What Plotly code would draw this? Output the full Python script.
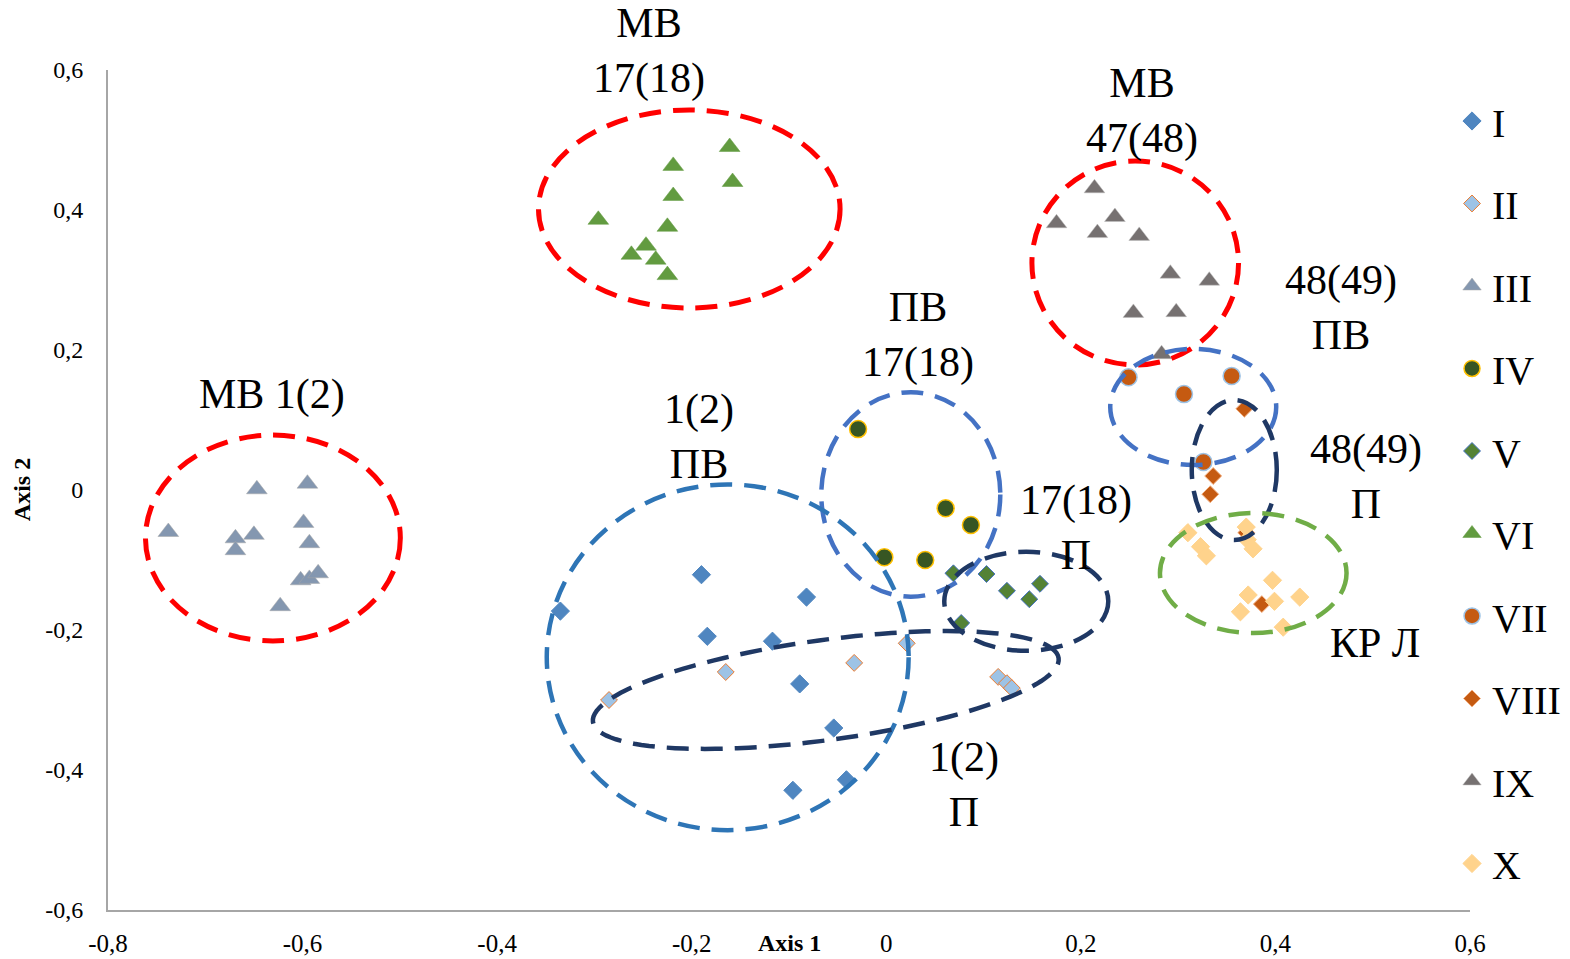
import numpy as np
import plotly.graph_objects as go

# ---- data: ordination scores (Axis 1, Axis 2) per group ----
x_I = [-0.335, -0.190, -0.184, -0.117, -0.082, -0.089, -0.054, -0.041, -0.096]
y_I = [-0.173, -0.121, -0.209, -0.216, -0.153, -0.277, -0.340, -0.414, -0.429]

x_II = [-0.285, -0.165, -0.033, 0.021, 0.115, 0.124, 0.129]
y_II = [-0.300, -0.260, -0.247, -0.219, -0.267, -0.276, -0.283]

x_III = [-0.738, -0.647, -0.595, -0.599, -0.593, -0.669, -0.669, -0.650, -0.602, -0.593, -0.584, -0.623]
y_III = [-0.060, 0.001, 0.009, -0.047, -0.076, -0.069, -0.086, -0.064, -0.129, -0.127, -0.119, -0.166]

x_IV = [-0.029, 0.061, 0.087, -0.002, 0.040]
y_IV = [0.087, -0.026, -0.050, -0.096, -0.100]

x_V = [0.069, 0.103, 0.124, 0.147, 0.158, 0.077]
y_V = [-0.119, -0.120, -0.144, -0.156, -0.134, -0.190]

x_VI = [-0.161, -0.158, -0.219, -0.219, -0.296, -0.225, -0.247, -0.262, -0.237, -0.225]
y_VI = [0.490, 0.440, 0.463, 0.420, 0.386, 0.376, 0.349, 0.336, 0.329, 0.307]

x_VII = [0.249, 0.355, 0.306, 0.326]
y_VII = [0.161, 0.163, 0.137, 0.040]

x_VIII = [0.368, 0.336, 0.333, 0.370, 0.386]
y_VIII = [0.116, 0.020, -0.006, -0.061, -0.163]

x_IX = [0.214, 0.175, 0.235, 0.217, 0.260, 0.292, 0.332, 0.254, 0.298, 0.283]
y_IX = [0.431, 0.381, 0.390, 0.367, 0.363, 0.309, 0.299, 0.253, 0.254, 0.194]

x_X = [0.310, 0.323, 0.329, 0.370, 0.371, 0.377, 0.397, 0.372, 0.399, 0.425, 0.364, 0.408]
y_X = [-0.061, -0.081, -0.094, -0.053, -0.071, -0.084, -0.129, -0.150, -0.159, -0.153, -0.174, -0.196]

series_names = ["I", "II", "III", "IV", "V", "VI", "VII", "VIII", "IX", "X"]

x_ticks = [-0.8, -0.6, -0.4, -0.2, 0, 0.2, 0.4, 0.6]
x_tick_text = ["-0,8", "-0,6", "-0,4", "-0,2", "0", "0,2", "0,4", "0,6"]
y_ticks = [-0.6, -0.4, -0.2, 0, 0.2, 0.4, 0.6]
y_tick_text = ["-0,6", "-0,4", "-0,2", "0", "0,2", "0,4", "0,6"]

# cluster outlines: (centre x, centre y, half-width, half-height, colour)
clusters = [
    (-0.6305, -0.0686, 0.131, 0.147, "#FF0000"),
    (-0.2025, 0.4014, 0.155, 0.1414, "#FF0000"),
    (0.2559, 0.3243, 0.1062, 0.1457, "#FF0000"),
    (0.3155, 0.1186, 0.0853, 0.0829, "#4472C4"),
    (0.3577, 0.0286, 0.0437, 0.1000, "#1F3864"),
    (0.3772, -0.1186, 0.0959, 0.0857, "#70AD47"),
    (0.0252, -0.0064, 0.0920, 0.1460, "#4472C4"),
    (0.1439, -0.1590, 0.0843, 0.0707, "#1F3864"),
    (-0.1630, -0.2390, 0.1860, 0.2470, "#2E75B6"),
]
# tilted outline around group II: centre, semi-axes in screen px, tilt in degrees
tilted_center = (-0.0622, -0.2857)
tilted_axes_px = (235, 50)
tilted_angle = 7.8

# cluster captions: (text, x, y) in axis units
captions = [
    ("МВ<br>17(18)", -0.2436, 0.627),
    ("МВ<br>47(48)", 0.263, 0.541),
    ("48(49)<br>ПВ", 0.4676, 0.261),
    ("ПВ<br>17(18)", 0.0329, 0.221),
    ("МВ 1(2)", -0.631, 0.136),
    ("1(2)<br>ПВ", -0.192, 0.077),
    ("17(18)<br>П", 0.195, -0.054),
    ("48(49)<br>П", 0.493, 0.019),
    ("КР Л", 0.5026, -0.219),
    ("1(2)<br>П", 0.080, -0.420),
]

# ---- layout geometry ----
W, H = 1570, 959
M_L, M_R, M_T, M_B = 108, 100, 70, 49
X_RANGE = [-0.8, 0.6]
Y_RANGE = [-0.6, 0.6]
px_per_x = (W - M_L - M_R) / (X_RANGE[1] - X_RANGE[0])
px_per_y = (H - M_T - M_B) / (Y_RANGE[1] - Y_RANGE[0])


def to_paper_x(v):
    return (v - X_RANGE[0]) / (X_RANGE[1] - X_RANGE[0])


def to_paper_y(v):
    return (v - Y_RANGE[0]) / (Y_RANGE[1] - Y_RANGE[0])


SERIF = "Liberation Serif, Times New Roman, serif"

styles = [
    dict(symbol="diamond", size=14, color="#4F86C0", line=dict(color="#4F86C0", width=1)),
    dict(symbol="diamond", size=13, color="#9DC3E6", line=dict(color="#ED7D31", width=1)),
    dict(symbol="triangle-up", size=18, color="#8497B0", line=dict(color="#A6A6A6", width=0.5)),
    dict(symbol="circle", size=17, color="#375623", line=dict(color="#FFC000", width=1.5)),
    dict(symbol="diamond", size=13, color="#548235", line=dict(color="#4472C4", width=1)),
    dict(symbol="triangle-up", size=18, color="#629B40", line=dict(color="#629B40", width=0.5)),
    dict(symbol="circle", size=17, color="#C55A11", line=dict(color="#9DC3E6", width=1.5)),
    dict(symbol="diamond", size=13, color="#C55A11", line=dict(color="#F4B183", width=1)),
    dict(symbol="triangle-up", size=18, color="#767171", line=dict(color="#BFBFBF", width=0.5)),
    dict(symbol="diamond", size=14, color="#FFD38C", line=dict(color="#FFD38C", width=1)),
]
xs = [x_I, x_II, x_III, x_IV, x_V, x_VI, x_VII, x_VIII, x_IX, x_X]
ys = [y_I, y_II, y_III, y_IV, y_V, y_VI, y_VII, y_VIII, y_IX, y_X]

fig = go.Figure()
for name, xv, yv, st in zip(series_names, xs, ys, styles):
    fig.add_trace(go.Scatter(
        x=xv, y=yv, mode="markers", name=name, legendgroup=name,
        marker=st, cliponaxis=False,
    ))

shapes = []
for cx, cy, rx, ry, col in clusters:
    w = 5 if col == "#FF0000" else 4.5
    shapes.append(dict(
        type="circle", xref="x", yref="y",
        x0=cx - rx, x1=cx + rx, y0=cy - ry, y1=cy + ry,
        line=dict(color=col, width=w, dash="22px,12px"),
        layer="above",
    ))

# rotated ellipse, built in screen pixels then mapped back to data units
t = np.linspace(0, 2 * np.pi, 121)
a, b = tilted_axes_px
phi = np.deg2rad(tilted_angle)
dx_px = a * np.cos(t) * np.cos(phi) - b * np.sin(t) * np.sin(phi)
dy_px = a * np.cos(t) * np.sin(phi) + b * np.sin(t) * np.cos(phi)
ex = tilted_center[0] + dx_px / px_per_x
ey = tilted_center[1] + dy_px / px_per_y
path = "M " + " L ".join(f"{u:.5f},{v:.5f}" for u, v in zip(ex, ey)) + " Z"
shapes.append(dict(
    type="path", xref="x", yref="y", path=path,
    line=dict(color="#1F3864", width=4.5, dash="22px,12px"), layer="above",
))

annotations = []
for txt, ax_, ay_ in captions:
    annotations.append(dict(
        text=txt, x=to_paper_x(ax_), y=to_paper_y(ay_), xref="paper", yref="paper",
        showarrow=False, font=dict(family=SERIF, size=42, color="black"),
        xanchor="center", yanchor="middle", align="center",
    ))
annotations.append(dict(
    text="<b>Axis 1</b>", x=0.5, y=-0.039, xref="paper", yref="paper",
    showarrow=False, font=dict(family=SERIF, size=24, color="black"),
    xanchor="center", yanchor="middle",
))
annotations.append(dict(
    text="<b>Axis 2</b>", x=-0.063, y=0.5, xref="paper", yref="paper",
    showarrow=False, textangle=-90, font=dict(family=SERIF, size=24, color="black"),
    xanchor="center", yanchor="middle",
))

fig.update_layout(
    width=W, height=H,
    margin=dict(l=M_L, r=M_R, t=M_T, b=M_B, pad=0, autoexpand=False),
    paper_bgcolor="white", plot_bgcolor="white",
    showlegend=True,
    legend=dict(
        x=0.9868, xanchor="left", y=0.978, yanchor="top",
        font=dict(family=SERIF, size=40, color="black"),
        tracegroupgap=27.5, bgcolor="rgba(0,0,0,0)",
    ),
    shapes=shapes,
    annotations=annotations,
    xaxis=dict(
        range=X_RANGE, tickvals=x_ticks, ticktext=x_tick_text,
        showgrid=False, zeroline=False, showline=True, linecolor="#A6A6A6",
        linewidth=2, ticks="", ticklabelstandoff=10,
        tickfont=dict(family=SERIF, size=25, color="black"),
    ),
    yaxis=dict(
        range=Y_RANGE, tickvals=y_ticks, ticktext=y_tick_text,
        showgrid=False, zeroline=False, showline=True, linecolor="#A6A6A6",
        linewidth=2, ticks="", ticklabelstandoff=18,
        tickfont=dict(family=SERIF, size=24, color="black"),
    ),
)

fig.write_html("out.html", config={"displayModeBar": False})
